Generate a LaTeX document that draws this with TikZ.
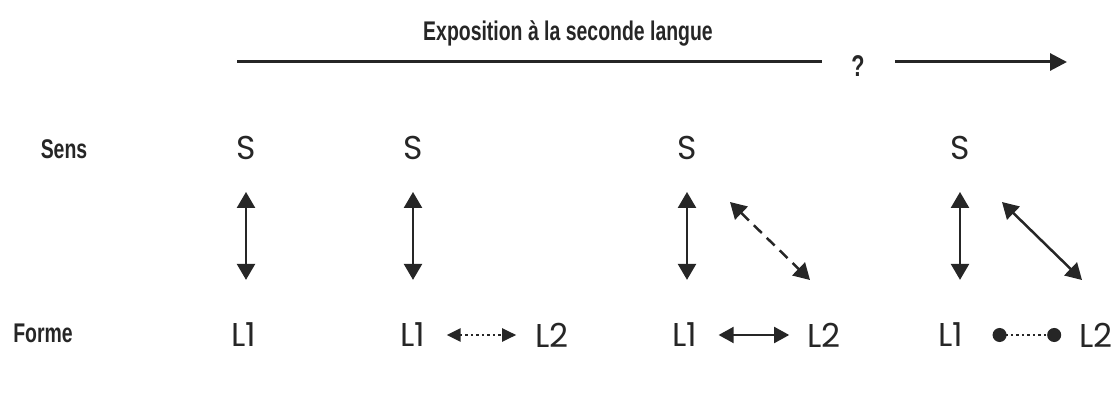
\documentclass[tikz,border=0pt]{standalone}
\usepackage{fontspec}
\setmainfont{Poppins}
\newfontfamily\condfont[FakeStretch=0.72]{Liberation Sans}
\usetikzlibrary{arrows.meta,positioning}

\begin{document}
\begin{tikzpicture}[x=1pt,y=-1pt,
  every node/.style={inner sep=0pt,text=black!85},
  lettre/.style={font=\fontsize{33}{33}\selectfont},
  etiq/.style={font=\condfont\bfseries\fontsize{27}{27}\selectfont},
  lien/.style={{Triangle[width=18pt,length=16pt]}-{Triangle[width=18pt,length=16pt]},
    line width=2.5pt,black!85},
  petit/.style={{Triangle[width=13pt,length=14pt]}-{Triangle[width=13pt,length=14pt]},
    line width=2.5pt,black!85}]

\useasboundingbox (0,0) rectangle (1114,398);

% axe du temps
\node[etiq,anchor=base] (expo) at (568,41) {Exposition à la seconde langue};
\node[etiq,font=\condfont\bfseries\fontsize{30}{30}\selectfont] (q) at (858,66) {?};
\coordinate (t0) at (237,62);
\coordinate (t1) at (822,62);
\coordinate (t2) at (895,62);
\coordinate (t3) at (1067,62);
\draw[line width=3pt,black!85] (t0) -- (t1);
\draw[line width=3pt,black!85,-{Triangle[width=17pt,length=17pt]}] (t2) -- (t3);

% lignes
\node[etiq,anchor=base] (sens) at (64,159) {Sens};
\node[etiq,anchor=base] (forme) at (43,342) {Forme};

% sens
\node[lettre] (s1) at (246,148) {S};
\node[lettre] (s2) at (413,148) {S};
\node[lettre] (s3) at (687,148) {S};
\node[lettre] (s4) at (960,148) {S};

% forme
\node[lettre] (f1) at (244,335) {L1};
\node[lettre] (f2) at (413,335) {L1};
\node[lettre] (f3) at (685,335) {L1};
\node[lettre] (f4) at (951,335) {L1};
\node[lettre] (g2) at (552,335) {L2};
\node[lettre] (g3) at (824,335) {L2};
\node[lettre] (g4) at (1096,335) {L2};

% liens sens-forme
\foreach \i in {1,...,4}
  \draw[lien,shorten <=32pt,shorten >=43pt] (s\i.center |- s\i.south) -- (s\i.center |- f\i.north);

\coordinate (d3a) at (730,202);
\coordinate (d3b) at (810,280);
\coordinate (d4a) at (1002,202);
\coordinate (d4b) at (1082,280);
\draw[lien,dash pattern=on 11pt off 7pt] (d3a) -- (d3b);
\draw[lien] (d4a) -- (d4b);

% liens entre langues
\draw[petit,dash pattern=on 2.5pt off 3pt,shorten <=21pt,shorten >=19pt] (f2) -- (g2);
\draw[lien,{Triangle[width=16pt,length=15pt]}-{Triangle[width=16pt,length=15pt]},
  line width=2pt,shorten <=21pt,shorten >=18pt] (f3) -- (g3);
\draw[{Circle[length=14pt]}-{Circle[length=14pt]},line width=2.5pt,
  dash pattern=on 2.5pt off 3pt,black!85,
  shorten <=29pt,shorten >=18pt] (f4) -- (g4);
\end{tikzpicture}
\end{document}
